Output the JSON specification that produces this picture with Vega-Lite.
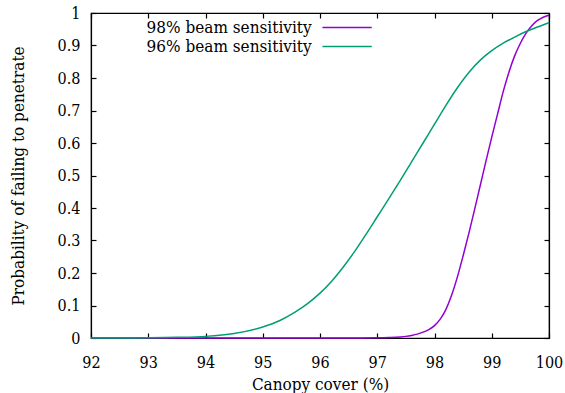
{
  "$schema": "https://vega.github.io/schema/vega-lite/v6.json",
  "width": 458,
  "height": 325,
  "autosize": "none",
  "padding": {"left": 91, "top": 13, "right": 16, "bottom": 55},
  "background": "white",
  "config": {
    "font": "DejaVu Serif Condensed, DejaVu Serif",
    "view": {"stroke": "black", "strokeWidth": 1.2},
    "axis": {
      "domainColor": "black",
      "domainWidth": 1.2,
      "tickColor": "black",
      "tickSize": -5,
      "tickWidth": 1.2,
      "grid": false,
      "labelFont": "DejaVu Serif Condensed, DejaVu Serif",
      "labelFontSize": 16,
      "labelColor": "black",
      "titleFont": "DejaVu Serif Condensed, DejaVu Serif",
      "titleFontSize": 17,
      "titleFontWeight": "normal",
      "titleColor": "black"
    },
    "legend": {
      "labelFont": "DejaVu Serif Condensed, DejaVu Serif",
      "labelFontSize": 17,
      "labelColor": "black",
      "labelLimit": 400
    }
  },
  "data": {
    "values": [
      {"x": 92, "p": 0, "s": "98% beam sensitivity"},
      {"x": 93, "p": 0, "s": "98% beam sensitivity"},
      {"x": 94, "p": 0, "s": "98% beam sensitivity"},
      {"x": 95, "p": 0, "s": "98% beam sensitivity"},
      {"x": 96, "p": 0, "s": "98% beam sensitivity"},
      {"x": 96.5, "p": 0.0001, "s": "98% beam sensitivity"},
      {"x": 97, "p": 0.0005, "s": "98% beam sensitivity"},
      {"x": 97.2, "p": 0.0012, "s": "98% beam sensitivity"},
      {"x": 97.4, "p": 0.003, "s": "98% beam sensitivity"},
      {"x": 97.5, "p": 0.005, "s": "98% beam sensitivity"},
      {"x": 97.6, "p": 0.008, "s": "98% beam sensitivity"},
      {"x": 97.7, "p": 0.012, "s": "98% beam sensitivity"},
      {"x": 97.8, "p": 0.018, "s": "98% beam sensitivity"},
      {"x": 97.9, "p": 0.026, "s": "98% beam sensitivity"},
      {"x": 98.0, "p": 0.038, "s": "98% beam sensitivity"},
      {"x": 98.1, "p": 0.058, "s": "98% beam sensitivity"},
      {"x": 98.2, "p": 0.088, "s": "98% beam sensitivity"},
      {"x": 98.3, "p": 0.132, "s": "98% beam sensitivity"},
      {"x": 98.4, "p": 0.188, "s": "98% beam sensitivity"},
      {"x": 98.5, "p": 0.253, "s": "98% beam sensitivity"},
      {"x": 98.6, "p": 0.322, "s": "98% beam sensitivity"},
      {"x": 98.7, "p": 0.395, "s": "98% beam sensitivity"},
      {"x": 98.8, "p": 0.47, "s": "98% beam sensitivity"},
      {"x": 98.9, "p": 0.545, "s": "98% beam sensitivity"},
      {"x": 99.0, "p": 0.618, "s": "98% beam sensitivity"},
      {"x": 99.1, "p": 0.688, "s": "98% beam sensitivity"},
      {"x": 99.2, "p": 0.758, "s": "98% beam sensitivity"},
      {"x": 99.3, "p": 0.818, "s": "98% beam sensitivity"},
      {"x": 99.4, "p": 0.868, "s": "98% beam sensitivity"},
      {"x": 99.5, "p": 0.907, "s": "98% beam sensitivity"},
      {"x": 99.6, "p": 0.938, "s": "98% beam sensitivity"},
      {"x": 99.7, "p": 0.961, "s": "98% beam sensitivity"},
      {"x": 99.8, "p": 0.977, "s": "98% beam sensitivity"},
      {"x": 99.9, "p": 0.987, "s": "98% beam sensitivity"},
      {"x": 100, "p": 0.993, "s": "98% beam sensitivity"},
      {"x": 92, "p": 0, "s": "96% beam sensitivity"},
      {"x": 92.5, "p": 0.0002, "s": "96% beam sensitivity"},
      {"x": 93, "p": 0.0007, "s": "96% beam sensitivity"},
      {"x": 93.5, "p": 0.002, "s": "96% beam sensitivity"},
      {"x": 94, "p": 0.005, "s": "96% beam sensitivity"},
      {"x": 94.5, "p": 0.014, "s": "96% beam sensitivity"},
      {"x": 95, "p": 0.034, "s": "96% beam sensitivity"},
      {"x": 95.3, "p": 0.054, "s": "96% beam sensitivity"},
      {"x": 95.55, "p": 0.078, "s": "96% beam sensitivity"},
      {"x": 95.8, "p": 0.108, "s": "96% beam sensitivity"},
      {"x": 96.0, "p": 0.138, "s": "96% beam sensitivity"},
      {"x": 96.2, "p": 0.174, "s": "96% beam sensitivity"},
      {"x": 96.4, "p": 0.217, "s": "96% beam sensitivity"},
      {"x": 96.6, "p": 0.265, "s": "96% beam sensitivity"},
      {"x": 96.8, "p": 0.318, "s": "96% beam sensitivity"},
      {"x": 97.0, "p": 0.373, "s": "96% beam sensitivity"},
      {"x": 97.2, "p": 0.428, "s": "96% beam sensitivity"},
      {"x": 97.4, "p": 0.484, "s": "96% beam sensitivity"},
      {"x": 97.6, "p": 0.542, "s": "96% beam sensitivity"},
      {"x": 97.8, "p": 0.6, "s": "96% beam sensitivity"},
      {"x": 98.0, "p": 0.658, "s": "96% beam sensitivity"},
      {"x": 98.2, "p": 0.716, "s": "96% beam sensitivity"},
      {"x": 98.4, "p": 0.77, "s": "96% beam sensitivity"},
      {"x": 98.6, "p": 0.817, "s": "96% beam sensitivity"},
      {"x": 98.8, "p": 0.855, "s": "96% beam sensitivity"},
      {"x": 99.0, "p": 0.884, "s": "96% beam sensitivity"},
      {"x": 99.2, "p": 0.907, "s": "96% beam sensitivity"},
      {"x": 99.4, "p": 0.926, "s": "96% beam sensitivity"},
      {"x": 99.6, "p": 0.943, "s": "96% beam sensitivity"},
      {"x": 99.8, "p": 0.957, "s": "96% beam sensitivity"},
      {"x": 100, "p": 0.97, "s": "96% beam sensitivity"}
    ]
  },
  "layer": [
    {
      "mark": {"type": "line", "interpolate": "monotone", "strokeWidth": 1.5},
      "encoding": {
        "x": {
          "field": "x", "type": "quantitative",
          "scale": {"domain": [92, 100], "nice": false, "zero": false},
          "axis": {"title": "Canopy cover (%)", "format": "d", "values": [92, 93, 94, 95, 96, 97, 98, 99, 100], "labelPadding": 21, "titlePadding": 6, "labelFlush": false, "labelOverlap": false}
        },
        "y": {
          "field": "p", "type": "quantitative",
          "scale": {"domain": [0, 1], "nice": false},
          "axis": {"title": "Probability of failing to penetrate", "format": "~g", "values": [0, 0.1, 0.2, 0.3, 0.4, 0.5, 0.6, 0.7, 0.8, 0.9, 1], "labelPadding": 16, "titlePadding": 30, "labelFlush": false, "labelOverlap": false}
        },
        "color": {
          "field": "s", "type": "nominal",
          "scale": {"domain": ["98% beam sensitivity", "96% beam sensitivity"], "range": ["#9400d3", "#009e73"]},
          "legend": {
            "title": null,
            "orient": "none",
            "legendX": 247.6,
            "legendY": 6,
            "symbolType": "M-4.2,0H4.2",
            "symbolSize": 138,
            "symbolStrokeWidth": 1.5,
            "labelAlign": "right",
            "labelOffset": -44,
            "rowPadding": 1
          }
        }
      }
    },
    {
      "mark": {"type": "line", "strokeOpacity": 0},
      "encoding": {
        "x": {"field": "x", "type": "quantitative", "axis": {"orient": "top", "title": null, "labels": false, "values": [92, 93, 94, 95, 96, 97, 98, 99, 100]}},
        "y": {"field": "p", "type": "quantitative", "axis": {"orient": "right", "title": null, "labels": false, "values": [0, 0.1, 0.2, 0.3, 0.4, 0.5, 0.6, 0.7, 0.8, 0.9, 1]}},
        "detail": {"field": "s"}
      }
    }
  ],
  "resolve": {"axis": {"x": "independent", "y": "independent"}}
}
